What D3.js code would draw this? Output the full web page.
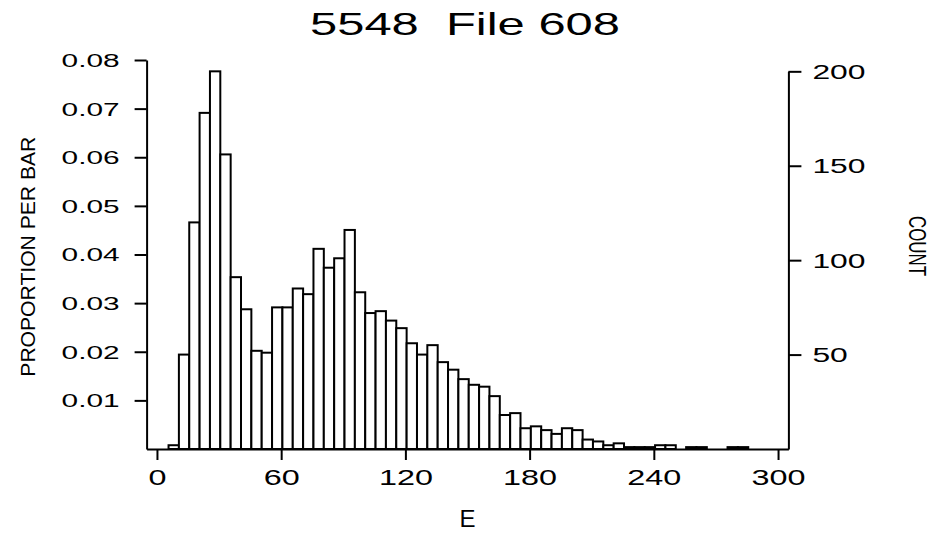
<!DOCTYPE html>
<html>
<head>
<meta charset="utf-8">
<script src="https://cdnjs.cloudflare.com/ajax/libs/d3/7.8.5/d3.min.js"></script>
<style>
  body { margin: 0; background: #fff; }
  svg { display: block; }
  text { font-family: "Liberation Sans", Arial, sans-serif; fill: #000; }
</style>
</head>
<body>
<svg id="vis" width="935" height="536"></svg>
<script>
// histogram of E, bins of width 5
var binStart = 5.6, binWidth = 5;
var counts = [2, 50, 120, 178, 200, 156, 91, 74, 52, 51,
              75, 75, 85, 82, 106, 96, 101, 116, 83, 72,
              73, 68, 64, 56, 50, 55, 46, 42, 37, 34,
              33, 28, 18, 19, 11, 12, 10, 8, 11, 10,
              5, 4, 2, 3, 1, 1, 1, 2, 2, 0,
              1, 1, 0, 0, 1, 1];
var xTicks = [0, 60, 120, 180, 240, 300];
var propTicks = [0.01, 0.02, 0.03, 0.04, 0.05, 0.06, 0.07, 0.08];
var countTicks = [50, 100, 150, 200];
var title = "5548  File 608";
var xLabel = "E", yLabel = "PROPORTION PER BAR", y2Label = "COUNT";

var total = d3.sum(counts);
var bins = counts.map(function(c, i) {
  return {x0: binStart + i * binWidth, x1: binStart + (i + 1) * binWidth, count: c};
});

var svg = d3.select("#vis");

var x = d3.scaleLinear().domain([-5, 305]).range([146.6, 788.4]);
var yProp = d3.scaleLinear().domain([0, 0.08]).range([449, 60]);
var yCount = d3.scaleLinear().domain([0, 0.08 * total]).range([449, 60]);
var yRight = d3.scaleLinear().domain([0, 200]).range([yCount(0), yCount(200)]);

// width of a label, the original font is very wide
function labelWidth(s, digit, dot) {
  var w = 0;
  for (var i = 0; i < s.length; i++) w += (s[i] == ".") ? dot : digit;
  return w;
}

// bars
svg.append("g")
  .selectAll("rect")
  .data(bins.filter(function(d) { return d.count > 0; }))
  .enter()
  .append("rect")
    .attr("x", function(d) { return x(d.x0); })
    .attr("width", function(d) { return x(d.x1) - x(d.x0); })
    .attr("y", function(d) { return yCount(d.count); })
    .attr("height", function(d) { return yCount(0) - yCount(d.count); })
    .attr("fill", "white")
    .attr("stroke", "black")
    .attr("stroke-width", 2);

// bottom axis
var gx = svg.append("g")
  .attr("transform", "translate(0," + yProp(0) + ")")
  .call(d3.axisBottom(x).tickValues(xTicks).tickSize(11).tickSizeOuter(0).tickPadding(8));
gx.selectAll("text")
  .style("font-size", "22px")
  .attr("dy", "0.75em")
  .attr("textLength", function(d) { return labelWidth(String(d), 18, 7); })
  .attr("lengthAdjust", "spacingAndGlyphs");

// left axis
var gy = svg.append("g")
  .attr("transform", "translate(" + x(-5) + ",0)")
  .call(d3.axisLeft(yProp).tickValues(propTicks).tickFormat(d3.format(".2f"))
    .tickSize(12).tickSizeOuter(0).tickPadding(15));
gy.selectAll("text")
  .style("font-size", "18px")
  .attr("dy", "0.36em")
  .attr("textLength", function(d) { return labelWidth(d3.format(".2f")(d), 17, 7); })
  .attr("lengthAdjust", "spacingAndGlyphs");

// right axis
var gr = svg.append("g")
  .attr("transform", "translate(" + x(305) + ",0)")
  .call(d3.axisRight(yRight).tickValues(countTicks).tickSize(13).tickSizeOuter(0).tickPadding(11));
gr.selectAll("text")
  .style("font-size", "20px")
  .attr("dy", "0.36em")
  .attr("textLength", function(d) { return labelWidth(String(d), 17.7, 7); })
  .attr("lengthAdjust", "spacingAndGlyphs");

svg.selectAll(".domain, .tick line")
  .attr("stroke", "black")
  .attr("stroke-width", 2);

// title and labels
svg.append("text")
  .attr("x", 310)
  .attr("y", 35)
  .style("font-size", "32px")
  .style("white-space", "pre")
  .attr("textLength", 310)
  .attr("lengthAdjust", "spacingAndGlyphs")
  .text(title);

svg.append("text")
  .attr("x", 467.5)
  .attr("y", 527)
  .attr("text-anchor", "middle")
  .style("font-size", "24px")
  .text(xLabel);

svg.append("text")
  .attr("transform", "translate(35,256.7) rotate(-90)")
  .attr("text-anchor", "middle")
  .style("font-size", "21px")
  .attr("textLength", 240)
  .attr("lengthAdjust", "spacingAndGlyphs")
  .text(yLabel);

svg.append("text")
  .attr("transform", "translate(909,246) rotate(90)")
  .attr("text-anchor", "middle")
  .style("font-size", "24px")
  .attr("textLength", 60)
  .attr("lengthAdjust", "spacingAndGlyphs")
  .text(y2Label);
</script>
</body>
</html>
